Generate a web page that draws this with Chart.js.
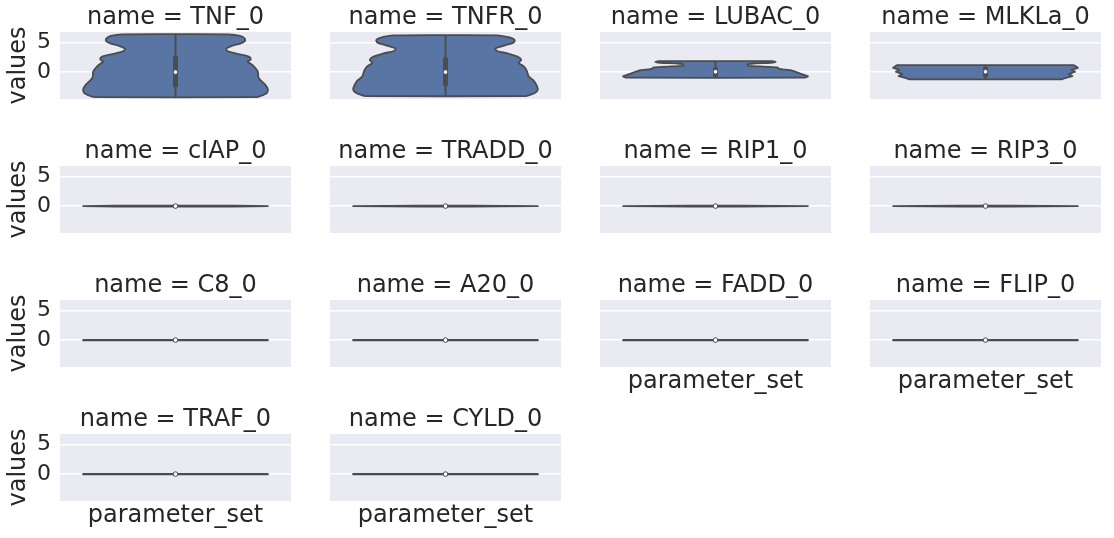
<!DOCTYPE html>
<html><head><meta charset="utf-8">
<script src="https://cdn.jsdelivr.net/npm/chart.js@4.4.1/dist/chart.umd.min.js"></script>
<style>
html,body{margin:0;padding:0;background:#fff;}
#fig{position:relative;width:1114px;height:538px;overflow:hidden;background:#fff;}
.pan{position:absolute;}
.pan canvas{display:block;}
</style></head><body><div id="fig"></div>
<script>
// ---------------- data ----------------
const names = ['TNF_0','TNFR_0','LUBAC_0','MLKLa_0','cIAP_0','TRADD_0','RIP1_0','RIP3_0','C8_0','A20_0','FADD_0','FLIP_0','TRAF_0','CYLD_0'];
const yTicks = [0, 5];
const yRange = [-4.55, 6.78];

// violin outlines: value levels (top -> bottom) and relative half-widths (1 = widest)
const tnfLevels   = [6.39, 6.11, 5.67, 5.22, 4.83, 4.44, 4.0, 3.56, 3.17, 2.78, 2.44, 2.06, 1.78, 1.44, 0.94, 0.11, -1.0, -2.11, -2.94, -3.5, -3.94, -4.22];
const tnfWidths   = [0.58, 0.70, 0.75, 0.75, 0.70, 0.61, 0.55, 0.56, 0.65, 0.76, 0.81, 0.81, 0.78, 0.81, 0.85, 0.89, 0.90, 0.97, 1.0, 0.99, 0.94, 0.88];
const tnfrLevels  = [6.22, 5.83, 5.39, 4.94, 4.56, 4.0, 3.56, 3.17, 2.61, 2.06, 1.56, 0.94, 0.22, -0.72, -1.56, -2.39, -2.94, -3.5, -3.94, -4.06];
const tnfrWidths  = [0.56, 0.70, 0.75, 0.73, 0.65, 0.54, 0.56, 0.67, 0.78, 0.82, 0.79, 0.85, 0.88, 0.90, 0.96, 0.99, 1.0, 0.97, 0.90, 0.87];
const lubacLevels = [1.85, 1.72, 1.58, 1.45, 1.35, 1.05, 0.95, 0.78, 0.55, 0.40, 0.28, -0.2, -0.7, -0.95];
const lubacWidths = [0.62, 0.65, 0.60, 0.41, 0.35, 0.35, 0.49, 0.67, 0.69, 0.76, 0.82, 0.91, 1.0, 0.97];
const mlklLevels  = [1.17, 0.72, 0.39, 0.06, -0.33, -0.67, -1.06, -1.22];
const mlklWidths  = [0.96, 1.0, 0.93, 0.97, 0.90, 0.94, 0.85, 0.83];
const ciapLevels  = [0.09, 0.0, -0.09];
const ciapWidths  = [0.65, 1.0, 0.65];
const spikeLevels = [0.09, 0.05, 0.0, -0.05, -0.09];
const spikeWidths = [0.28, 0.62, 1.0, 0.62, 0.28];
const flatLevels  = [0.03, -0.03];
const flatWidths  = [1.0, 1.0];

const violinLevels = [tnfLevels, tnfrLevels, lubacLevels, mlklLevels, ciapLevels, spikeLevels, spikeLevels, spikeLevels,
                      flatLevels, flatLevels, flatLevels, flatLevels, flatLevels, flatLevels];
const violinWidths = [tnfWidths, tnfrWidths, lubacWidths, mlklWidths, ciapWidths, spikeWidths, spikeWidths, spikeWidths,
                      flatWidths, flatWidths, flatWidths, flatWidths, flatWidths, flatWidths];

// inner box (quartiles) and medians
const boxLow  = [-2.55, -2.33, -0.85, -0.8, null, null, null, null, null, null, null, null, null, null];
const boxHigh = [ 2.67,  2.45,  0.75,  0.85, null, null, null, null, null, null, null, null, null, null];
const medians = [0, 0, 0.06, 0.05, 0, 0, 0, 0, 0, 0, 0, 0, 0, 0];

// ---------------- style / layout ----------------
const TEXT = '#262626', GRAY = '#4c4c4c', FILL = '#5875a4', BG = '#eaeaf2';
const FONT = 'DejaVu Sans';
const colLeft = [60, 330, 600, 870], rowTop = [32, 166, 300, 434];
const PW = 231, PH = 67, TH = 29, YAW = 60, XAH = 33, EXTRA = 14;
const HALF = 0.4; // seaborn violin width 0.8
const tensions = [0.3, 0.3, 0.15, 0, 0, 0, 0, 0, 0, 0, 0, 0, 0, 0];

const bgPlugin = {
  id: 'bg',
  beforeDraw(c) {
    const a = c.chartArea, x = c.ctx;
    x.save(); x.fillStyle = BG;
    x.fillRect(a.left, a.top, a.right - a.left, a.bottom - a.top);
    x.restore();
  }
};

const fig = document.getElementById('fig');

names.forEach((nm, i) => {
  const r = Math.floor(i / 4), col = i % 4;
  const first = col === 0;
  const lastRow = (col < 2 ? 3 : 2) === r;
  const padB = (first && !lastRow) ? EXTRA : 0;
  const w = PW + (first ? YAW : 0), h = TH + PH + (lastRow ? XAH : 0) + padB;
  const div = document.createElement('div');
  div.className = 'pan';
  div.style.left = (colLeft[col] - (first ? YAW : 0)) + 'px';
  div.style.top = (rowTop[r] - TH) + 'px';
  div.style.width = w + 'px'; div.style.height = h + 'px';
  const cv = document.createElement('canvas');
  cv.width = w; cv.height = h;
  cv.style.width = w + 'px'; cv.style.height = h + 'px';
  div.appendChild(cv); fig.appendChild(div);

  const lv = violinLevels[i], wd = violinWidths[i];
  const pts = [];
  for (let k = 0; k < lv.length; k++) pts.push({x: wd[k] * HALF, y: lv[k]});
  for (let k = lv.length - 1; k >= 0; k--) pts.push({x: -wd[k] * HALF, y: lv[k]});
  pts.push({x: wd[0] * HALF, y: lv[0]});

  const datasets = [];
  datasets.push({data: [{x: 0, y: medians[i]}], showLine: false, pointRadius: 2.3, pointHoverRadius: 0,
    pointBackgroundColor: '#ffffff', pointBorderColor: GRAY, pointBorderWidth: 1, order: 1});
  if (boxLow[i] !== null) {
    datasets.push({data: [{x: 0, y: boxLow[i]}, {x: 0, y: boxHigh[i]}], borderColor: GRAY, borderWidth: 5,
      borderCapStyle: 'butt', pointRadius: 0, pointHoverRadius: 0, fill: false, order: 2});
    datasets.push({data: [{x: 0, y: lv[lv.length - 1]}, {x: 0, y: lv[0]}], borderColor: GRAY, borderWidth: 2,
      borderCapStyle: 'butt', pointRadius: 0, pointHoverRadius: 0, fill: false, order: 3});
  }
  datasets.push({data: pts, borderColor: GRAY, borderWidth: 1.8, backgroundColor: FILL, fill: 'shape',
    pointRadius: 0, pointHoverRadius: 0, tension: tensions[i], borderJoinStyle: 'round', order: 4});

  new Chart(cv, {
    type: 'line',
    data: {datasets},
    options: {
      responsive: false, animation: false, devicePixelRatio: 1,
      layout: {padding: {top: 0, left: 0, right: 0, bottom: padB}, autoPadding: false},
      events: [],
      plugins: {
        legend: {display: false}, tooltip: {enabled: false},
        title: {display: true, text: 'name = ' + nm, fullSize: false, color: TEXT,
          font: {family: FONT, size: 24, weight: 'normal', lineHeight: TH / 24}, padding: {top: 0, bottom: 0}}
      },
      scales: {
        x: {type: 'linear', min: -0.5, max: 0.5, grid: {display: false}, border: {display: false},
          ticks: {display: false},
          title: {display: lastRow, text: 'parameter_set', color: TEXT, font: {family: FONT, size: 24, weight: 'normal'},
            padding: {top: 4, bottom: 4}},
          afterFit(s) { s.height = lastRow ? XAH : 0; s.paddingLeft = 0; s.paddingRight = 0; }},
        y: {type: 'linear', min: yRange[0], max: yRange[1],
          grid: {color: '#ffffff', lineWidth: 1.5, drawTicks: false}, border: {display: false},
          ticks: {display: first, color: TEXT, font: {family: FONT, size: 22}, padding: 9},
          afterBuildTicks(s) { s.ticks = yTicks.map(v => ({value: v})); },
          title: {display: first, text: 'values', color: TEXT, font: {family: FONT, size: 24, weight: 'normal'},
            padding: {top: 4, bottom: 4}},
          afterFit(s) { s.width = first ? YAW : 0; s.paddingTop = 0; s.paddingBottom = 0; }}
      }
    },
    plugins: [bgPlugin]
  });
});
</script>
</body></html>
